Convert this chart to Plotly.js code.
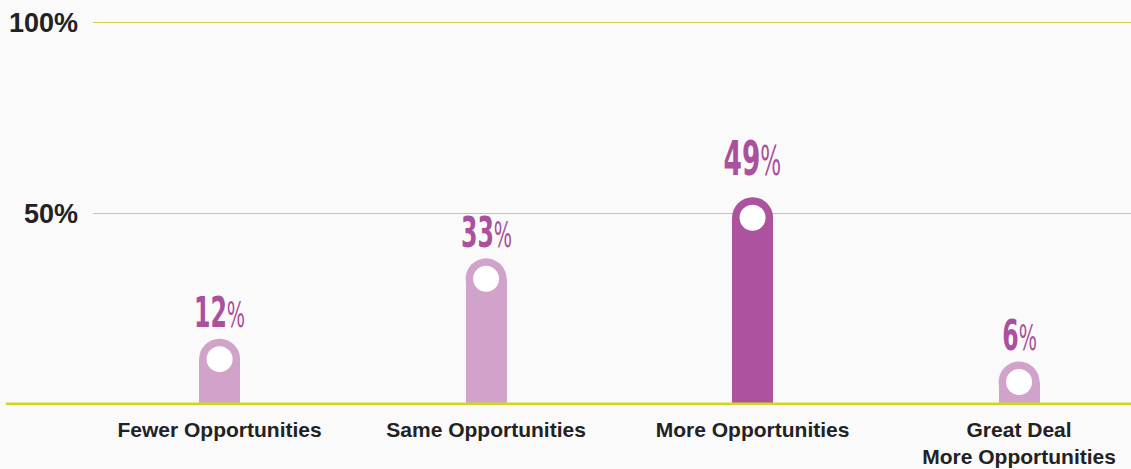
<!DOCTYPE html>
<html>
<head>
<meta charset="utf-8">
<script src="https://cdn.plot.ly/plotly-3.0.1.min.js"></script>
<style>
html,body{margin:0;padding:0;background:#fafafa;}
#chart{width:1131px;height:469px;}
</style>
</head>
<body>
<div id="chart"></div>
<script>
const categories = ["Fewer Opportunities", "Same Opportunities", "More Opportunities", "Great Deal<br>More Opportunities"];
const values = [12, 33, 49, 6];
const highlight = [false, false, true, false];
const yTickVals = [50, 100];
const yTickText = ["50%", "100%"];

const LIGHT = "#d1a3ca";
const DARK = "#ad529f";
const LABEL = "#ab509d";
const barColors = highlight.map(h => h ? DARK : LIGHT);
const xIdx = categories.map((c, i) => i);

const traces = [
  {
    type: "bar", x: xIdx, y: values, width: 0.154,
    marker: {color: barColors}, hoverinfo: "skip"
  },
  {
    type: "scatter", mode: "markers", x: xIdx, y: values, cliponaxis: false,
    marker: {size: 41, color: barColors, line: {width: 0}}, hoverinfo: "skip"
  },
  {
    type: "scatter", mode: "markers", x: xIdx, y: values, cliponaxis: false,
    marker: {size: 26, color: "#ffffff", line: {width: 0}}, hoverinfo: "skip"
  }
];

const annotations = values.map((v, i) => ({
  x: i, y: v, xref: "x", yref: "y",
  text: v + "<span style='font-size:" + (highlight[i] ? 40 : 35) + "px;font-weight:normal'>%</span>",
  showarrow: false, yanchor: "bottom", xanchor: "center",
  yshift: highlight[i] ? 30 : 20,
  font: {family: "'DejaVu Sans', sans-serif",
         size: highlight[i] ? 48 : 43, color: LABEL, weight: "bold"}
}));

const layout = {
  width: 1131, height: 469,
  paper_bgcolor: "#fafafa", plot_bgcolor: "#fafafa",
  margin: {l: 93, r: 0, t: 17, b: 64},
  showlegend: false,
  bargap: 0,
  xaxis: {
    range: [-0.475, 3.42],
    tickvals: xIdx, ticktext: categories,
    showgrid: false, zeroline: false, showline: false, ticks: "",
    ticklabelstandoff: 10,
    tickfont: {family: "'Liberation Sans', Arial, sans-serif", size: 21, color: "#222222", weight: "bold"},
    fixedrange: true
  },
  yaxis: {
    range: [0, 101.5],
    tickvals: yTickVals, ticktext: yTickText,
    showgrid: true, gridcolor: "#cdd24a", gridwidth: 1,
    zeroline: false, showline: false, ticks: "",
    ticklabelstandoff: 14,
    tickfont: {family: "'Liberation Sans', Arial, sans-serif", size: 27, color: "#222222", weight: "bold"},
    fixedrange: true
  },
  shapes: [{
    type: "line", xref: "paper", yref: "y",
    x0: -0.084, x1: 1, y0: 0, y1: 0,
    line: {color: "#cfd628", width: 5}, layer: "above"
  }],
  annotations: annotations
};

Plotly.newPlot("chart", traces, layout, {displayModeBar: false, staticPlot: true}).then(gd => {
  // condensed look for the value labels: squeeze horizontally around each label's centre
  const SX = 0.55;
  gd.querySelectorAll("text.annotation-text").forEach(t => {
    const b = t.getBBox();
    const cx = b.x + b.width / 2;
    t.setAttribute("transform", "translate(" + (cx * (1 - SX)) + ",0) scale(" + SX + ",1)");
  });
});
</script>
</body>
</html>
